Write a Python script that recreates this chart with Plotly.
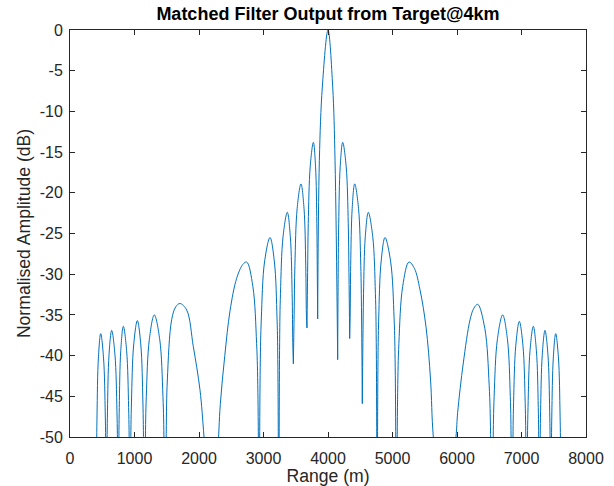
import plotly.graph_objects as go

# Each lobe of the matched-filter response (range in m, level in dB)
lobe_range_m = [
    [405, 412, 419, 440, 476, 520, 547, 556, 565],
    [565, 573, 581, 605, 646, 697, 728, 738, 748],
    [748, 756, 764, 787, 827, 878, 909, 920, 930],
    [930, 941, 953, 987, 1044, 1098, 1130, 1141, 1152],
    [1152, 1168, 1183, 1230, 1307, 1391, 1441, 1458, 1475],
    [1475, 1492, 1509, 1576, 1640, 1705, 1809, 1912, 2015, 2078, 2190],
    [2190, 2290, 2330, 2400, 2481, 2584, 2680, 2739, 2835, 2893, 2913, 2932],
    [2932, 2949, 2966, 3016, 3101, 3169, 3210, 3223, 3237],
    [3237, 3250, 3263, 3303, 3369, 3416, 3444, 3454, 3463],
    [3463, 3475, 3487, 3522, 3581, 3628, 3655, 3665, 3674],
    [3674, 3684, 3694, 3724, 3773, 3807, 3827, 3834, 3840],
    [3840, 3866, 3912, 4000, 4073, 4109, 4150],
    [4150, 4158, 4166, 4189, 4228, 4282, 4314, 4325, 4336],
    [4336, 4344, 4352, 4375, 4414, 4473, 4508, 4520, 4532],
    [4532, 4541, 4551, 4578, 4625, 4694, 4735, 4748, 4762],
    [4762, 4774, 4786, 4823, 4884, 4972, 5025, 5042, 5060],
    [5060, 5080, 5099, 5158, 5256, 5340, 5426, 5520, 5590, 5633, 5808],
    [5808, 5984, 6010, 6098, 6202, 6260, 6321, 6432, 6499, 6521, 6543],
    [6543, 6560, 6576, 6626, 6708, 6782, 6826, 6840, 6855],
    [6855, 6866, 6877, 6911, 6966, 7023, 7057, 7069, 7080],
    [7080, 7090, 7101, 7132, 7183, 7231, 7260, 7269, 7279],
    [7279, 7288, 7296, 7322, 7364, 7410, 7437, 7446, 7455],
    [7455, 7463, 7470, 7493, 7530, 7573, 7598, 7607, 7615],
]
lobe_level_db = [
    [-75, -53.3, -47.3, -40.3, -37.3, -40.3, -47.3, -53.3, -75],
    [-75, -52.9, -46.9, -39.9, -36.9, -39.9, -46.9, -52.9, -75],
    [-75, -52.4, -46.4, -39.4, -36.4, -39.4, -46.4, -52.4, -75],
    [-75, -51.7, -45.7, -38.7, -35.7, -38.7, -45.7, -51.7, -75],
    [-75, -51.0, -45.0, -38.0, -35.0, -38.0, -45.0, -51.0, -75],
    [-75, -49.6, -43.0, -35.6, -34.0, -33.6, -34.4, -38.9, -44.2, -50, -62],
    [-62, -52, -46, -40, -34.5, -30.5, -28.8, -28.5, -31.5, -38.5, -44.5, -75],
    [-75, -41.5, -35.5, -28.5, -25.5, -28.5, -35.5, -41.5, -75],
    [-75, -38.4, -32.4, -25.4, -22.4, -25.4, -32.4, -38.4, -41.0],
    [-41.0, -34.9, -28.9, -21.9, -18.9, -21.9, -28.9, -34.9, -36.6],
    [-36.6, -29.8, -23.8, -16.8, -13.8, -16.8, -23.8, -29.8, -35.5],
    [-35.5, -16, -7, 0, -7, -16, -40.5],
    [-40.5, -29.8, -23.8, -16.8, -13.8, -16.8, -23.8, -29.8, -37.9],
    [-37.9, -34.9, -28.9, -21.9, -18.9, -21.9, -28.9, -34.9, -45.9],
    [-45.9, -38.4, -32.4, -25.4, -22.4, -25.4, -32.4, -38.4, -75],
    [-75, -41.5, -35.5, -28.5, -25.5, -28.5, -35.5, -41.5, -75],
    [-75, -44.5, -38.5, -31.5, -28.5, -29.3, -31.9, -36.5, -43, -50, -62],
    [-62, -50, -47, -40.9, -35.6, -34.2, -33.7, -36.7, -43.7, -49.7, -75],
    [-75, -51, -45, -38, -35, -38, -45, -51, -75],
    [-75, -51.8, -45.8, -38.8, -35.8, -38.8, -45.8, -51.8, -75],
    [-75, -52.4, -46.4, -39.4, -36.4, -39.4, -46.4, -52.4, -75],
    [-75, -52.9, -46.9, -39.9, -36.9, -39.9, -46.9, -52.9, -75],
    [-75, -53.3, -47.3, -40.3, -37.3, -40.3, -47.3, -53.3, -75],
]

x_ticks = [0, 1000, 2000, 3000, 4000, 5000, 6000, 7000, 8000]
y_ticks = [0, -5, -10, -15, -20, -25, -30, -35, -40, -45, -50]
y_tick_labels = ["0", "-5", "-10", "-15", "-20", "-25", "-30", "-35", "-40", "-45", "-50"]

xs, ys = [], []
for rx, ly in zip(lobe_range_m, lobe_level_db):
    xs.extend(rx + [None])
    ys.extend(ly + [None])

axis_col = "#262626"
font_family = "Liberation Sans, Arial, Helvetica, sans-serif"

fig = go.Figure(
    go.Scatter(
        x=xs, y=ys, mode="lines",
        line=dict(color="#0072BD", width=1, shape="spline", smoothing=1),
        connectgaps=False, hoverinfo="skip", showlegend=False,
    )
)

common_axis = dict(
    showgrid=False, zeroline=False, showline=True, linecolor=axis_col, linewidth=1,
    mirror="allticks", ticks="inside", ticklen=5, tickwidth=1, tickcolor=axis_col,
    tickfont=dict(family=font_family, size=16, color=axis_col), automargin=False,
)

fig.update_layout(
    width=614, height=486,
    margin=dict(l=70, r=28, t=30, b=49),
    paper_bgcolor="white", plot_bgcolor="white",
    title=dict(
        text="<b>Matched Filter Output from Target@4km</b>",
        font=dict(family=font_family, size=18, color="#000000"),
        x=0.5, xref="paper", xanchor="center", y=0.971, yref="container", yanchor="middle",
    ),
    xaxis=dict(
        common_axis, range=[0, 8000], tickvals=x_ticks, ticklabelstandoff=7,
        title=dict(text="Range (m)", font=dict(family=font_family, size=17.6, color=axis_col), standoff=5),
    ),
    yaxis=dict(
        common_axis, range=[-50, 0], tickvals=y_ticks, ticktext=y_tick_labels, ticklabelstandoff=3,
        title=dict(text="Normalised Amplitude (dB)", font=dict(family=font_family, size=17.6, color=axis_col), standoff=4),
    ),
)

fig.write_html("out.html")
